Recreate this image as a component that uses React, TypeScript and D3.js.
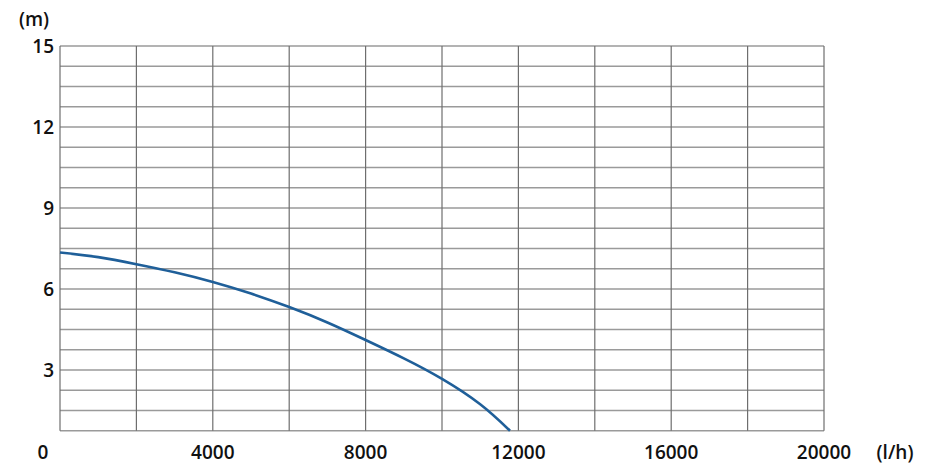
import React from "react";
import * as d3 from "d3";

const flow = [0, 1000, 2000, 3000, 4000, 5000, 6000, 7000, 8000, 9000, 10000, 11000, 11780];
const head = [7.35, 7.18, 6.92, 6.62, 6.26, 5.83, 5.33, 4.76, 4.11, 3.43, 2.67, 1.73, 0.75];
const yTicks = [3, 6, 9, 12, 15];
const xTicks = [4000, 8000, 12000, 16000, 20000];

const W = 930, H = 474;
const left = 60, right = 824, top = 46;

export default function App() {
  const x = d3.scaleLinear().domain([0, 20000]).range([left, right]);
  const y = d3.scaleLinear().domain([0, 15]).range([451, top]);
  const bottom = y(0.75);
  const hLines = d3.range(0.75, 15.001, 0.75);
  const vLines = d3.range(0, 20001, 2000);
  const line = d3
    .line<number>()
    .x((_, i) => x(flow[i]))
    .y((d) => y(d))
    .curve(d3.curveNatural);
  const font = "'Open Sans', 'DejaVu Sans', sans-serif";
  return (
    <svg width={W} height={H} style={{ position: "absolute", left: 0, top: 0, background: "#fff" }}>
      {hLines.map((v, i) => (
        <line key={"h" + i} x1={left} x2={right} y1={y(v)} y2={y(v)} stroke="#9a9a9a" strokeWidth={1.4} />
      ))}
      {vLines.map((v, i) => (
        <line key={"v" + i} x1={x(v)} x2={x(v)} y1={top} y2={bottom} stroke="#6e6e6e" strokeWidth={1.2} />
      ))}
      <path d={line(head) || ""} fill="none" stroke="#1f5f99" strokeWidth={2.6} />
      <g fontFamily={font} fontWeight={600} fontSize={19} fill="#111">
        {yTicks.map((t) => (
          <text key={t} x={54} y={y(t)} textAnchor="end" dominantBaseline="central">{t}</text>
        ))}
        {xTicks.map((t) => (
          <text key={t} x={x(t)} y={452} textAnchor="middle" dominantBaseline="central">{t}</text>
        ))}
        <text x={43} y={452} textAnchor="middle" dominantBaseline="central">0</text>
        <text x={34} y={19} textAnchor="middle" dominantBaseline="central">(m)</text>
        <text x={895} y={452} textAnchor="middle" dominantBaseline="central">(l/h)</text>
      </g>
    </svg>
  );
}
